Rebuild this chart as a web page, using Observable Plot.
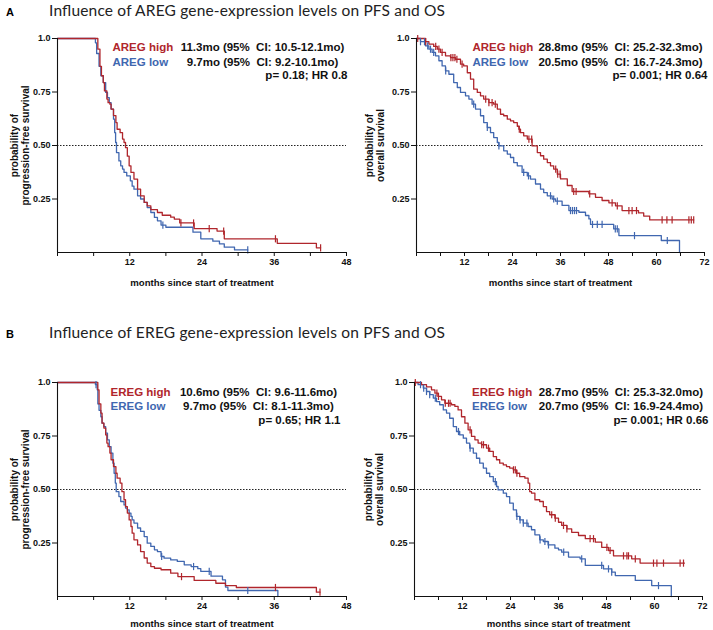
<!DOCTYPE html>
<html><head><meta charset="utf-8">
<script src="https://cdn.jsdelivr.net/npm/d3@7"></script>
<script src="https://cdn.jsdelivr.net/npm/@observablehq/plot@0.6"></script>
<style>
body{margin:0;background:#fff;}
#root{position:relative;width:713px;height:630px;overflow:hidden;background:#fff;}
.panel{position:absolute;}
#heads{position:absolute;left:0;top:0;}
.panel g[aria-label="x-axis tick label"], .panel g[aria-label="y-axis tick label"]{font-size:9px;font-weight:bold;}
</style></head><body><div id="root"></div>
<script>
// ---------- data ----------
const sectionLetters = ["A", "B"];
const sectionTitles = [
  "Influence of AREG gene-expression levels on PFS and OS",
  "Influence of EREG gene-expression levels on PFS and OS"
];
const xAxisLabel = "months since start of treatment";
const yLabelPfs = "probability of\nprogression-free survival";
const yLabelOs = "probability of\noverall survival";

const pfsMonthTicks = [0, 6, 12, 18, 24, 30, 36, 42, 48];
const osMonthTicks = [0, 6, 12, 18, 24, 30, 36, 42, 48, 54, 60, 66, 72];
const probTicks = [0.25, 0.5, 0.75, 1.0];
const probTickLabels = ["0.25", "0.50", "0.75", "1.0"];

const aregGroups = ["AREG high", "AREG low"];
const aregPfsMedians = ["11.3mo (95%  CI: 10.5-12.1mo)", "9.7mo (95%  CI: 9.2-10.1mo)"];
const aregPfsStat = "p= 0.18; HR 0.8";
const aregOsMedians = ["28.8mo (95%  CI: 25.2-32.3mo)", "20.5mo (95%  CI: 16.7-24.3mo)"];
const aregOsStat = "p= 0.001; HR 0.64";
const eregGroups = ["EREG high", "EREG low"];
const eregPfsMedians = ["10.6mo (95%  CI: 9.6-11.6mo)", "9.7mo (95%  CI: 8.1-11.3mo)"];
const eregPfsStat = "p= 0.65; HR 1.1";
const eregOsMedians = ["28.7mo (95%  CI: 25.3-32.0mo)", "20.7mo (95%  CI: 16.9-24.4mo)"];
const eregOsStat = "p= 0.001; HR 0.66";

// Kaplan-Meier steps: [month, survival after the step]
const aregPfsHigh = [[0,1],[6.7,0.95],[7.05,0.87],[7.3,0.826],[7.6,0.794],[7.8,0.755],[8.2,0.717],[8.4,0.70],[8.7,0.693],[8.9,0.67],[9.3,0.64],[9.7,0.607],[9.9,0.576],[10.4,0.56],[10.8,0.53],[11.05,0.514],[11.3,0.49],[11.6,0.45],[11.9,0.405],[12.2,0.374],[12.7,0.343],[13.3,0.296],[13.8,0.265],[14.4,0.234],[14.9,0.218],[15.5,0.20],[16.6,0.187],[17.4,0.174],[18.8,0.165],[19.4,0.156],[20.3,0.138],[22.7,0.112],[26.5,0.10],[27.7,0.064],[36.5,0.043],[43,0.022],[43.7,0.022]];
const aregPfsLow = [[0,1],[6.3,0.98],[6.5,0.93],[6.9,0.87],[7.2,0.826],[7.6,0.794],[8.0,0.748],[8.3,0.724],[8.6,0.70],[8.9,0.67],[9.3,0.623],[9.5,0.56],[9.65,0.514],[9.8,0.467],[10.2,0.428],[10.5,0.405],[10.8,0.39],[11.05,0.374],[11.5,0.358],[12.1,0.335],[12.4,0.31],[12.7,0.296],[13.3,0.265],[13.8,0.25],[14.4,0.234],[14.9,0.21],[15.5,0.187],[16.1,0.164],[16.6,0.148],[17.2,0.128],[18.0,0.118],[22.5,0.095],[23.8,0.064],[25.8,0.053],[26.9,0.04],[27.7,0.025],[29.4,0.012],[31.6,0.012]];
const aregPfsHighCensor = [20.5, 22.6, 25.2, 27.6, 36.2, 43.7];
const aregPfsLowCensor = [17.5, 31.6];

const aregOsHigh = [[0,1],[2.25,0.985],[3.1,0.974],[4.3,0.963],[5.2,0.95],[6.0,0.935],[7.25,0.919],[8.5,0.911],[9.75,0.903],[11,0.88],[11.8,0.872],[12.7,0.84],[13.5,0.81],[14.3,0.763],[15.2,0.748],[16,0.732],[16.8,0.717],[18.1,0.70],[19.3,0.693],[20.2,0.67],[21,0.646],[21.8,0.639],[22.7,0.623],[23.5,0.615],[24.3,0.607],[25.2,0.59],[25.6,0.576],[26,0.56],[26.8,0.545],[27.7,0.53],[28.9,0.498],[30.2,0.467],[31,0.452],[31.8,0.436],[32.7,0.42],[33.5,0.405],[34.3,0.39],[35.2,0.366],[36,0.344],[37.7,0.313],[38.9,0.285],[43.1,0.274],[44.75,0.258],[46.4,0.243],[48.1,0.232],[49.75,0.218],[51.4,0.196],[55.5,0.185],[56.8,0.170],[58.3,0.152],[69.3,0.152]];
const aregOsLow = [[0,1],[1,0.985],[2.25,0.966],[3.1,0.95],[3.9,0.935],[4.75,0.919],[5.6,0.896],[6.4,0.872],[7.25,0.849],[8.1,0.833],[9.3,0.794],[10.2,0.771],[11,0.748],[12.25,0.732],[13.1,0.717],[13.9,0.693],[14.75,0.67],[16,0.639],[16.8,0.607],[17.7,0.584],[18.5,0.56],[19.3,0.537],[20.2,0.514],[20.6,0.498],[21.8,0.475],[22.7,0.46],[23.5,0.444],[24.3,0.42],[25.2,0.405],[26.4,0.374],[27.7,0.358],[28.5,0.343],[29.75,0.32],[31,0.296],[31.8,0.28],[32.7,0.265],[33.9,0.25],[34.75,0.24],[36.4,0.22],[38.1,0.196],[40.6,0.188],[42.25,0.173],[43.1,0.157],[43.5,0.131],[49.3,0.11],[50.6,0.079],[61.2,0.056],[65.75,0]];
const aregOsHighCensor = [0.3, 2.3, 4.8, 5.6, 6.4, 8.6, 9.1, 9.6, 10.1, 11.4, 17.3, 18.1, 18.9, 19.7, 25.7, 28.1, 28.8, 34.8, 35.3, 35.9, 39.3, 39.9, 43.3, 48.9, 50.2, 53.1, 53.9, 55.0, 61.4, 62.6, 63.9, 68.1, 68.7, 69.3];
const aregOsLowCensor = [1.0, 2.0, 2.8, 3.5, 4.3, 7.3, 14.3, 17.7, 20.6, 26.8, 28.0, 33.5, 34.3, 35.2, 38.5, 39.0, 39.5, 40.0, 44.0, 45.2, 46.4, 49.7, 50.2, 54.5, 62.7];

const eregPfsHigh = [[0,1],[6.7,0.966],[6.9,0.90],[7.2,0.857],[7.4,0.81],[7.7,0.787],[8.0,0.755],[8.2,0.717],[8.4,0.70],[8.7,0.67],[8.9,0.639],[9.3,0.607],[9.7,0.576],[9.9,0.553],[10.4,0.53],[10.7,0.49],[11.05,0.452],[11.3,0.42],[11.6,0.39],[11.9,0.358],[12.2,0.327],[12.4,0.296],[12.7,0.265],[13.3,0.241],[13.8,0.21],[14.4,0.18],[14.9,0.156],[15.5,0.14],[16.1,0.132],[17.2,0.125],[18.8,0.109],[20.0,0.093],[22.7,0.075],[26.3,0.062],[27.9,0.051],[29.7,0.042],[43,0.02],[43.6,0.02]];
const eregPfsLow = [[0,1],[6.3,0.99],[6.6,0.966],[6.7,0.90],[6.9,0.87],[7.2,0.84],[7.4,0.81],[7.7,0.794],[8.0,0.763],[8.3,0.732],[8.6,0.70],[8.9,0.67],[9.2,0.623],[9.4,0.576],[9.6,0.53],[9.75,0.49],[10.2,0.467],[10.5,0.444],[11.05,0.428],[11.3,0.413],[11.6,0.405],[11.9,0.39],[12.2,0.374],[12.4,0.358],[12.7,0.343],[13.3,0.32],[13.8,0.304],[14.4,0.28],[14.9,0.249],[15.5,0.234],[16.1,0.218],[16.6,0.21],[17.2,0.187],[17.7,0.179],[18.8,0.171],[19.9,0.164],[21.05,0.148],[22.2,0.14],[23.3,0.13],[23.8,0.117],[25.5,0.095],[27.4,0.078],[27.9,0.044],[28.3,0.028],[36.6,0]];
const eregPfsHighCensor = [20.6, 36.2, 43.6];
const eregPfsLowCensor = [6.4, 17.3, 22.6, 25.2, 31.6];

const eregOsHigh = [[0,1],[1.75,0.99],[3,0.98],[4.25,0.966],[5.1,0.95],[5.9,0.935],[6.75,0.919],[7.6,0.903],[9.25,0.896],[10.1,0.888],[10.9,0.872],[11.75,0.84],[12.6,0.81],[13.4,0.779],[14.25,0.748],[15.1,0.732],[15.9,0.717],[16.75,0.709],[18,0.693],[18.8,0.678],[19.7,0.654],[20.5,0.639],[21.3,0.623],[22.2,0.615],[23,0.607],[23.8,0.60],[24.7,0.592],[25.5,0.576],[26.3,0.56],[27.6,0.553],[28.4,0.53],[28.8,0.49],[29.25,0.483],[30.1,0.452],[31.3,0.444],[32.2,0.42],[33,0.397],[33.8,0.382],[35.1,0.366],[36,0.347],[36.8,0.332],[38.1,0.316],[39.3,0.30],[41,0.285],[42.7,0.27],[45.2,0.254],[46.8,0.23],[48.5,0.215],[49.75,0.19],[54.3,0.176],[56.4,0.156],[67.5,0.156]];
const eregOsLow = [[0,1],[0.9,0.99],[2.2,0.974],[3,0.958],[3.8,0.943],[4.7,0.927],[5.5,0.911],[6.3,0.896],[7.2,0.872],[8,0.857],[8.8,0.833],[9.7,0.794],[10.5,0.771],[11.3,0.755],[12.2,0.74],[13,0.717],[13.8,0.693],[14.7,0.67],[15.5,0.646],[16.3,0.623],[17.2,0.60],[18,0.576],[18.8,0.56],[19.7,0.537],[20.5,0.514],[20.9,0.498],[22.2,0.483],[23,0.467],[23.8,0.436],[24.7,0.405],[25.5,0.374],[26.3,0.358],[27.2,0.343],[28.4,0.327],[29.25,0.312],[30.1,0.288],[31.3,0.265],[32.2,0.257],[33.4,0.241],[35.1,0.226],[36,0.218],[36.8,0.207],[38.5,0.184],[41.4,0.176],[42.7,0.145],[47.25,0.129],[49.3,0.114],[50.2,0.098],[55.2,0.075],[59.3,0.051],[64.2,0]];
const eregOsHighCensor = [0.2, 5.6, 6.0, 7.7, 8.5, 8.9, 13.9, 16.8, 17.25, 18.5, 24.75, 25.2, 25.6, 34.3, 35.2, 37.25, 38.1, 43.9, 44.75, 48.1, 48.9, 52.25, 53.1, 53.5, 55.2, 59.75, 60.6, 62.25, 66.4, 67.25];
const eregOsLowCensor = [1.5, 2.3, 3.0, 3.8, 5.2, 11.0, 13.9, 20.2, 25.6, 26.4, 27.2, 28.1, 31.4, 32.6, 33.5, 37.3, 41.8, 46.8, 48.5, 49.3, 61.0];

// ---------- drawing ----------
const RED = "#b0262c";
const BLUE = "#4067b0";
const FONT = "Liberation Sans, Arial, Helvetica, sans-serif";

// vertical censor tick as a symbol
const censorTick = {draw(ctx, size) { const r = Math.sqrt(size / Math.PI); ctx.moveTo(0, -r); ctx.lineTo(0, r); }};

function survAt(curve, t) {
  let s = 1;
  for (const [ti, si] of curve) { if (ti <= t) s = si; else break; }
  return s;
}

function makePanel(p) {
  const marks = [
    Plot.ruleY([0.5], {stroke: "#222", strokeWidth: 1, strokeDasharray: "1.5,1.5"}),
    Plot.line(p.low, {x: d => d[0], y: d => d[1], curve: "step-after", stroke: BLUE, strokeWidth: 1.3}),
    Plot.line(p.high, {x: d => d[0], y: d => d[1], curve: "step-after", stroke: RED, strokeWidth: 1.3}),
    Plot.dot(p.lowCensor.map(t => [t, survAt(p.low, t)]), {x: d => d[0], y: d => d[1], symbol: censorTick, r: 3.6, stroke: BLUE, strokeWidth: 1.2, fill: "none"}),
    Plot.dot(p.highCensor.map(t => [t, survAt(p.high, t)]), {x: d => d[0], y: d => d[1], symbol: censorTick, r: 3.6, stroke: RED, strokeWidth: 1.2, fill: "none"}),
    Plot.ruleX([0], {stroke: "#111", strokeWidth: 1.1}),
    Plot.ruleY([0], {stroke: "#111", strokeWidth: 1.1}),
    Plot.text([p.groups[0]], {text: d => d, frameAnchor: "top-left", dx: p.lx, dy: p.ly[0], fill: RED, fontSize: 11.5, fontWeight: "bold", textAnchor: "start", lineAnchor: "middle"}),
    Plot.text([p.groups[1]], {text: d => d, frameAnchor: "top-left", dx: p.lx, dy: p.ly[1], fill: BLUE, fontSize: 11.5, fontWeight: "bold", textAnchor: "start", lineAnchor: "middle"}),
    Plot.text([p.medians[0]], {text: d => d, frameAnchor: "top-left", dx: p.mx, dy: p.ly[0], fill: "#111", fontSize: 11.5, fontWeight: "bold", textAnchor: "middle", lineAnchor: "middle"}),
    Plot.text([p.medians[1]], {text: d => d, frameAnchor: "top-left", dx: p.mx, dy: p.ly[1], fill: "#111", fontSize: 11.5, fontWeight: "bold", textAnchor: "middle", lineAnchor: "middle"}),
    Plot.text([p.stat], {text: d => d, frameAnchor: "top-left", dx: p.px, dy: p.ly[2], fill: "#111", fontSize: 11.5, fontWeight: "bold", textAnchor: "end", lineAnchor: "middle"}),
    Plot.text([p.ylabel], {text: d => d, frameAnchor: "left", dx: p.ydx, rotate: -90, fill: "#111", fontSize: 10, fontWeight: "bold", textAnchor: "middle", lineAnchor: "middle", lineHeight: 1.1}),
    Plot.text([xAxisLabel], {text: d => d, frameAnchor: "bottom", dy: p.xldy, fill: "#111", fontSize: 9.6, fontWeight: "bold", textAnchor: "middle", lineAnchor: "middle"})
  ];
  return Plot.plot({
    width: p.width, height: p.height,
    marginLeft: p.ml, marginRight: p.mr, marginTop: p.mt, marginBottom: p.mb,
    style: {fontFamily: FONT, fontWeight: "bold", fontSize: "9px", color: "#111", background: "transparent", overflow: "visible"},
    x: {domain: [0, p.xmax], ticks: p.xticks, tickFormat: d => (d > 0 && d % 12 === 0) ? String(d) : "", tickSize: 4, tickPadding: 2, label: null},
    y: {domain: [0, 1], ticks: probTicks, tickFormat: d => probTickLabels[probTicks.indexOf(d)], tickSize: 5, tickPadding: 2, label: null},
    marks
  });
}

const panels = [
  {left: 0, top: 30, width: 356, height: 262, ml: 57, mr: 10, mt: 8, mb: 40, xmax: 48, xticks: pfsMonthTicks,
   high: aregPfsHigh, low: aregPfsLow, highCensor: aregPfsHighCensor, lowCensor: aregPfsLowCensor,
   groups: aregGroups, medians: aregPfsMedians, stat: aregPfsStat, ylabel: yLabelPfs,
   lx: 55, mx: 205, px: 290, ly: [9, 24, 37], ydx: -38, xldy: 30},
  {left: 356, top: 30, width: 357, height: 262, ml: 60, mr: 9, mt: 8, mb: 40, xmax: 72, xticks: osMonthTicks,
   high: aregOsHigh, low: aregOsLow, highCensor: aregOsHighCensor, lowCensor: aregOsLowCensor,
   groups: aregGroups, medians: aregOsMedians, stat: aregOsStat, ylabel: yLabelOs,
   lx: 56, mx: 204, px: 291, ly: [9, 24, 37], ydx: -42, xldy: 30},
  {left: 0, top: 374, width: 356, height: 256, ml: 57, mr: 10, mt: 8, mb: 34, xmax: 48, xticks: pfsMonthTicks,
   high: eregPfsHigh, low: eregPfsLow, highCensor: eregPfsHighCensor, lowCensor: eregPfsLowCensor,
   groups: eregGroups, medians: eregPfsMedians, stat: eregPfsStat, ylabel: yLabelPfs,
   lx: 53, mx: 201, px: 283, ly: [10, 24, 38], ydx: -38, xldy: 27},
  {left: 356, top: 374, width: 357, height: 256, ml: 58, mr: 11, mt: 8, mb: 34, xmax: 72, xticks: osMonthTicks,
   high: eregOsHigh, low: eregOsLow, highCensor: eregOsHighCensor, lowCensor: eregOsLowCensor,
   groups: eregGroups, medians: eregOsMedians, stat: eregOsStat, ylabel: yLabelOs,
   lx: 57.6, mx: 206.4, px: 294, ly: [10, 24, 38], ydx: -41, xldy: 27}
];

const root = document.getElementById("root");
for (const p of panels) {
  const div = document.createElement("div");
  div.className = "panel";
  div.style.left = p.left + "px";
  div.style.top = p.top + "px";
  div.appendChild(makePanel(p));
  root.appendChild(div);
}

// section letters and titles
const ns = "http://www.w3.org/2000/svg";
const heads = document.createElementNS(ns, "svg");
heads.setAttribute("id", "heads");
heads.setAttribute("width", 713);
heads.setAttribute("height", 630);
const headBaselines = [16, 338];
sectionLetters.forEach((letter, i) => {
  const a = document.createElementNS(ns, "text");
  a.setAttribute("x", 6); a.setAttribute("y", headBaselines[i]);
  a.setAttribute("font-family", FONT); a.setAttribute("font-weight", "bold"); a.setAttribute("font-size", 11);
  a.textContent = letter;
  heads.appendChild(a);
  const t = document.createElementNS(ns, "text");
  t.setAttribute("x", 49); t.setAttribute("y", headBaselines[i]);
  t.setAttribute("font-family", "Lato, 'Open Sans', sans-serif"); t.setAttribute("font-size", 15.5);
  t.setAttribute("fill", "#222");
  t.setAttribute("textLength", 396); t.setAttribute("lengthAdjust", "spacing");
  t.textContent = sectionTitles[i];
  heads.appendChild(t);
});
root.appendChild(heads);
</script></body></html>
